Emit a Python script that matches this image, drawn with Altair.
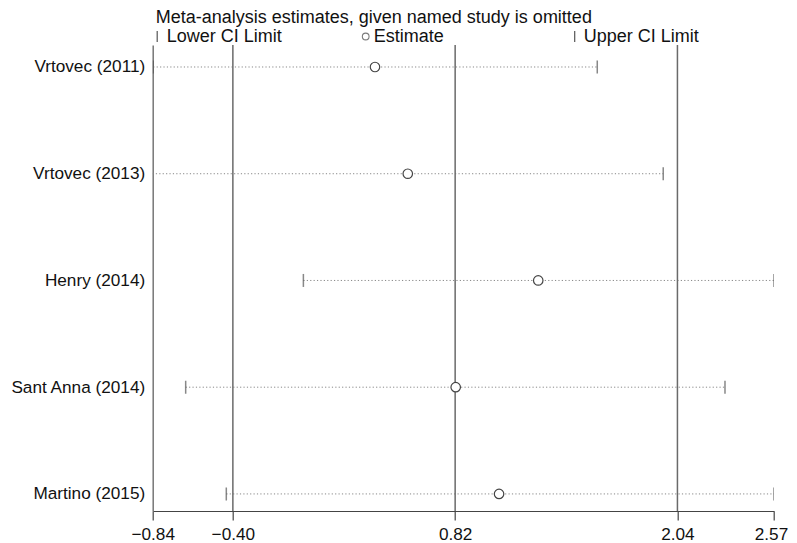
import altair as alt
import pandas as pd

studies = ["Vrtovec (2011)", "Vrtovec (2013)", "Henry (2014)", "Sant Anna (2014)", "Martino (2015)"]
row = [1, 2, 3, 4, 5]
estimate = [0.38, 0.56, 1.276, 0.823, 1.061]
lower = [-0.837, -0.86, -0.013, -0.659, -0.436]
upper = [1.60, 1.962, 2.57, 2.301, 2.57]
overall = [-0.40, 0.82, 2.04]
x_ticks = [-0.84, -0.40, 0.82, 2.04, 2.57]

FONT = "Liberation Sans"
FS = 18
FS_AX = 17.2

df = pd.DataFrame({"study": studies, "row": row, "est": estimate, "lo": lower, "hi": upper})
ov = pd.DataFrame({"v": overall})

xscale = alt.Scale(domain=[-0.84, 2.57], nice=False, zero=False)
yscale = alt.Scale(domain=[0.794, 5.16], reverse=True, nice=False, zero=False)

label_arr = "[" + ",".join("'" + s + "'" for s in studies) + "]"

xaxis = alt.Axis(values=x_ticks, format=".2f", grid=False, tickSize=9, labelPadding=5,
                 labelFontSize=FS_AX, labelFont=FONT, labelColor="#111", domainColor="#444",
                 tickColor="#444", domainWidth=1.2, tickWidth=1.2, title=None, labelFlush=False,
                 labelOffset=alt.ExprRef(expr="datum.value > 2.5 ? -3 : 0"))
yaxis = alt.Axis(values=row, labelExpr=label_arr + "[datum.value-1]", ticks=False, grid=False,
                 labelPadding=8, labelFontSize=FS_AX, labelFont=FONT, labelColor="#111",
                 domainColor="#777", domainWidth=1.5, title=None)

base = alt.Chart(df)

dots = base.mark_rule(color="#888", strokeDash=[1.2, 2.2], strokeWidth=1, clip=True).encode(
    x=alt.X("lo:Q", scale=xscale, axis=xaxis),
    x2="hi:Q",
    y=alt.Y("row:Q", scale=yscale, axis=yaxis),
)

refs = alt.Chart(ov).mark_rule(color="#6a6a6a", strokeWidth=1.5).encode(
    x=alt.X("v:Q", scale=xscale)
)

lo_ticks = base.mark_tick(orient="vertical", size=13, thickness=1.5, color="#555", clip=True).encode(
    x=alt.X("lo:Q", scale=xscale), y=alt.Y("row:Q", scale=yscale)
)
hi_ticks = base.mark_tick(orient="vertical", size=13, thickness=1.5, color="#555", clip=True).encode(
    x=alt.X("hi:Q", scale=xscale), y=alt.Y("row:Q", scale=yscale)
)
pts = base.mark_point(shape="circle", size=90, filled=False, color="#444", strokeWidth=1.2,
                      fill="white", fillOpacity=1).encode(
    x=alt.X("est:Q", scale=xscale), y=alt.Y("row:Q", scale=yscale)
)

title_txt = alt.Chart(pd.DataFrame({"t": ["Meta-analysis estimates, given named study is omitted"]})).mark_text(
    align="left", baseline="alphabetic", font=FONT, fontSize=FS, color="#111"
).encode(text="t:N", x=alt.value(3), y=alt.value(-22))

leg_df = pd.DataFrame({"t": ["Lower CI Limit", "Estimate", "Upper CI Limit"], "x": [14, 221, 431]})
leg_txt = alt.Chart(leg_df).mark_text(
    align="left", baseline="alphabetic", font=FONT, fontSize=FS, color="#111"
).encode(text="t:N", x=alt.X("x:Q", scale=None), y=alt.value(-3))

leg_bar1 = alt.Chart(pd.DataFrame({"a": [0]})).mark_rule(color="#555", strokeWidth=1.2).encode(
    x=alt.value(4.5), y=alt.value(-14), y2=alt.value(-3))
leg_bar2 = alt.Chart(pd.DataFrame({"a": [0]})).mark_rule(color="#555", strokeWidth=1.2).encode(
    x=alt.value(422), y=alt.value(-14), y2=alt.value(-3))
leg_pt = alt.Chart(pd.DataFrame({"a": [0]})).mark_point(shape="circle", size=45, color="#444",
                                                         strokeWidth=1.1).encode(
    x=alt.value(213), y=alt.value(-8.5))

chart = alt.layer(dots, refs, lo_ticks, hi_ticks, pts, title_txt, leg_txt, leg_bar1, leg_bar2, leg_pt).properties(
    width=621.3, height=466,
    autosize=alt.AutoSizeParams(type="none"),
    padding={"left": 144.7, "top": 37, "right": 15, "bottom": 40},
).configure_view(stroke=None)

chart.save("out.html", embed_options={"renderer": "svg", "actions": False})
